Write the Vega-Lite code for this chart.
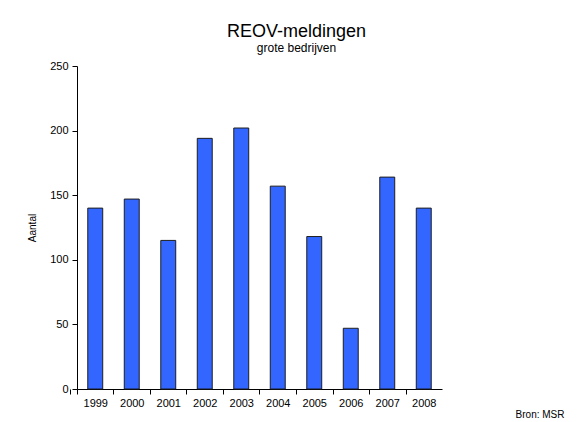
{
  "$schema": "https://vega.github.io/schema/vega-lite/v6.json",
  "width": 365,
  "height": 323,
  "autosize": {"type": "none"},
  "padding": {"left": 77, "top": 66, "right": 143, "bottom": 33},
  "background": "white",
  "config": {
    "font": "Liberation Sans",
    "view": {"stroke": null}
  },
  "title": {
    "text": "REOV-meldingen",
    "subtitle": "grote bedrijven",
    "fontSize": 18,
    "fontWeight": "normal",
    "color": "#000000",
    "subtitleFontSize": 12,
    "subtitleColor": "#000000",
    "subtitlePadding": 2,
    "anchor": "middle",
    "dx": 37,
    "offset": 6
  },
  "data": {
    "values": [
      {"jaar": "1999", "aantal": 140},
      {"jaar": "2000", "aantal": 147},
      {"jaar": "2001", "aantal": 115},
      {"jaar": "2002", "aantal": 194},
      {"jaar": "2003", "aantal": 202},
      {"jaar": "2004", "aantal": 157},
      {"jaar": "2005", "aantal": 118},
      {"jaar": "2006", "aantal": 47},
      {"jaar": "2007", "aantal": 164},
      {"jaar": "2008", "aantal": 140}
    ]
  },
  "mark": {"type": "bar", "fill": "#3366ff", "stroke": "#1e1e1e", "strokeWidth": 1},
  "encoding": {
    "x": {
      "field": "jaar",
      "type": "ordinal",
      "scale": {"paddingInner": 0.59, "paddingOuter": 0.295},
      "axis": {
        "title": "Bron: MSR",
        "titleFontSize": 10,
        "titleFontWeight": "normal",
        "titleColor": "#000000",
        "titleAnchor": "end",
        "titleAlign": "right",
        "titleX": 487,
        "titleY": 28,
        "titleBaseline": "alphabetic",
        "labelAngle": 0,
        "labelFontSize": 11,
        "labelColor": "#000000",
        "labelPadding": 3,
        "labelOffset": 18.25,
        "tickOffset": -18.25,
        "tickExtra": true,
        "tickSize": 5,
        "tickColor": "#000000",
        "domainColor": "#000000",
        "grid": false
      }
    },
    "y": {
      "field": "aantal",
      "type": "quantitative",
      "scale": {"domain": [0, 250], "nice": false},
      "axis": {
        "title": "Aantal",
        "titleFontSize": 10,
        "titleFontWeight": "normal",
        "titleColor": "#000000",
        "titlePadding": 12,
        "values": [0, 50, 100, 150, 200, 250],
        "labelFontSize": 11,
        "labelColor": "#000000",
        "labelPadding": 4,
        "tickSize": 5,
        "tickColor": "#000000",
        "domainColor": "#000000",
        "grid": false
      }
    }
  }
}
